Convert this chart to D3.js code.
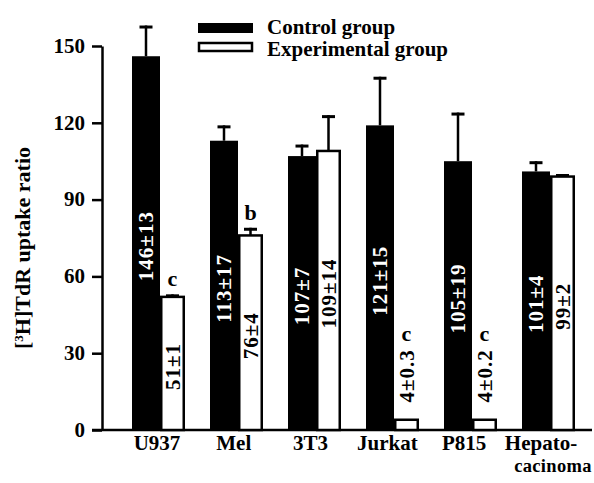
<!DOCTYPE html>
<html>
<head>
<meta charset="utf-8">
<script src="https://cdn.jsdelivr.net/npm/d3@7"></script>
<style>
  body { margin: 0; background: #fff; }
  text { font-family: "Liberation Serif", "Times New Roman", serif; font-weight: bold; }
</style>
</head>
<body>
<svg id="chart" width="594" height="483"></svg>
<script>
// values
var categories = ["U937", "Mel", "3T3", "Jurkat", "P815", "Hepato-cacinoma"];
var categoryLines = [["U937"], ["Mel"], ["3T3"], ["Jurkat"], ["P815"], ["Hepato-", "cacinoma"]];
var controlMean = [146, 113, 107, 119, 105, 101];
var controlErr = [12, 6, 4.5, 19, 19, 4];
var expMean = [52, 76, 109, 4, 4, 99];
var expErr = [1, 3, 14, 0, 0, 1];
var controlText = ["146\u00b113", "113\u00b117", "107\u00b17", "121\u00b115", "105\u00b119", "101\u00b14"];
var expText = ["51\u00b11", "76\u00b14", "109\u00b114", "4\u00b10.3", "4\u00b10.2", "99\u00b12"];
var sigLetters = ["c", "b", "", "c", "c", ""];
var yTicks = [0, 30, 60, 90, 120, 150];

var svg = d3.select('#chart');

var y = d3.scaleLinear().domain([0, 150]).range([430, 46]);
var x = d3.scaleBand().domain(categories).range([121, 589]).padding(0);

var blackW = 28, whiteW = 25;
function center(d) { return x(d) + x.bandwidth() / 2; }

// y axis
var yAxis = svg.append('g')
    .attr('transform', 'translate(102,0)')
    .call(d3.axisLeft(y).tickValues(yTicks).tickSize(10).tickSizeOuter(0).tickPadding(7));
yAxis.select('.domain').attr('stroke', '#000').attr('stroke-width', 2.5);
yAxis.selectAll('.tick line').attr('stroke', '#000').attr('stroke-width', 2.5);
yAxis.selectAll('.tick text')
    .attr('fill', '#000')
    .attr('dy', '0.3em')
    .style('font-size', '21px');

// baseline
svg.append('line')
    .attr('x1', 92).attr('x2', 592)
    .attr('y1', y(0)).attr('y2', y(0))
    .attr('stroke', '#000').attr('stroke-width', 2.5);

// y title
svg.append('text')
    .attr('transform', 'translate(30,' + ((y(0) + y(150)) / 2 + 10) + ') rotate(-90)')
    .attr('text-anchor', 'middle')
    .style('font-size', '22px')
    .html('[<tspan baseline-shift="super" font-size="13px">3</tspan>H]TdR uptake ratio');

var groups = svg.selectAll('.grp').data(categories).enter().append('g').attr('class', 'grp');

// error bars (drawn first so bars cover the stem)
function errBar(sel, mean, err, off) {
    sel.filter(function(d, i) { return err[i] > 0; }).each(function(d) {
        var i = categories.indexOf(d);
        var cx = center(d) + off;
        var g = d3.select(this);
        g.append('line')
            .attr('x1', cx).attr('x2', cx)
            .attr('y1', y(mean[i])).attr('y2', y(mean[i] + err[i]))
            .attr('stroke', '#000').attr('stroke-width', 2.5);
        g.append('line')
            .attr('x1', cx - 6.5).attr('x2', cx + 6.5)
            .attr('y1', y(mean[i] + err[i]) + 1.5).attr('y2', y(mean[i] + err[i]) + 1.5)
            .attr('stroke', '#000').attr('stroke-width', 3);
    });
}
errBar(groups, controlMean, controlErr, -blackW / 2);
errBar(groups, expMean, expErr, whiteW / 2);

// control bars
groups.append('rect')
    .attr('x', function(d) { return center(d) - blackW; })
    .attr('y', function(d, i) { return y(controlMean[i]); })
    .attr('width', blackW)
    .attr('height', function(d, i) { return y(0) - y(controlMean[i]); })
    .attr('fill', '#000');

// experimental bars
groups.append('rect')
    .attr('x', function(d) { return center(d) + 1.25; })
    .attr('y', function(d, i) { return y(expMean[i]); })
    .attr('width', whiteW - 2.5)
    .attr('height', function(d, i) { return y(0) - y(expMean[i]); })
    .attr('fill', '#fff')
    .attr('stroke', '#000').attr('stroke-width', 2.5);

// value labels inside bars
function labelY(v) { return v < 15 ? y(v) - 44 : (y(v) + y(0)) / 2 + 3; }

groups.append('text')
    .attr('transform', function(d, i) {
        return 'translate(' + (center(d) - blackW / 2) + ',' + labelY(controlMean[i]) + ') rotate(-90)';
    })
    .attr('text-anchor', 'middle').attr('dy', '0.35em')
    .attr('fill', '#fff')
    .style('font-size', '21px')
    .style('letter-spacing', '1px')
    .text(function(d, i) { return controlText[i]; });

groups.append('text')
    .attr('transform', function(d, i) {
        return 'translate(' + (center(d) + whiteW / 2) + ',' + labelY(expMean[i]) + ') rotate(-90)';
    })
    .attr('text-anchor', 'middle').attr('dy', '0.35em')
    .attr('fill', '#000')
    .style('font-size', '21px')
    .style('letter-spacing', '1px')
    .text(function(d, i) { return expText[i]; });

// significance letters
groups.append('text')
    .attr('x', function(d) { return center(d) + whiteW / 2; })
    .attr('y', function(d, i) {
        var top = expMean[i] < 15 ? labelY(expMean[i]) - 27 : y(expMean[i] + expErr[i]);
        return top - 8;
    })
    .attr('text-anchor', 'middle')
    .style('font-size', '22px')
    .text(function(d, i) { return sigLetters[i]; });

// category labels (second line as its own text, a bit smaller to fit the edge)
groups.each(function(d, i) {
    var g = d3.select(this);
    categoryLines[i].forEach(function(s, k) {
        g.append('text')
            .attr('text-anchor', 'middle')
            .attr('x', center(d) - 3 - i * 1.2 + k * 12)
            .attr('y', 450 + k * 22)
            .style('font-size', k > 0 ? '18.5px' : '21px')
            .style('letter-spacing', k > 0 ? '0.3px' : null)
            .text(s);
    });
});

// legend
var legend = svg.append('g').attr('transform', 'translate(198,23)');
legend.append('rect').attr('x', 0).attr('y', 0).attr('width', 55).attr('height', 10).attr('fill', '#000');
legend.append('text').attr('x', 69).attr('y', 11).style('font-size', '21px').text('Control group');
legend.append('rect').attr('x', 1).attr('y', 20).attr('width', 53).attr('height', 8)
    .attr('fill', '#fff').attr('stroke', '#000').attr('stroke-width', 2.5);
legend.append('text').attr('x', 69).attr('y', 33).style('font-size', '21px').text('Experimental group');
</script>
</body>
</html>
